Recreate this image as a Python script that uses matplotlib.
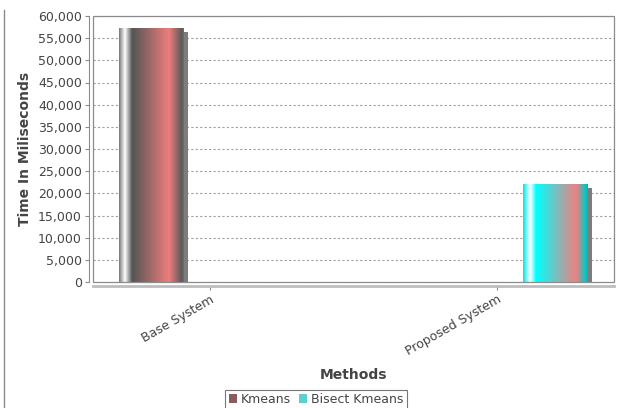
import numpy as np
import matplotlib
matplotlib.use('Agg')
import matplotlib.pyplot as plt
import matplotlib.transforms as mtransforms
from matplotlib.patches import Rectangle
from matplotlib.lines import Line2D
from matplotlib.ticker import FuncFormatter, MultipleLocator

# data
categories = ['Base System', 'Proposed System']
series_names = ['Kmeans', 'Bisect Kmeans']
kmeans = [57400, 0]
bisect_kmeans = [0, 22000]
y_max = 60000
y_step = 5000

TEXT = '#444444'
GRID = '#a0a0a0'

# JFreeChart-like gradient stops across each bar (fraction, rgb)
kmeans_stops = [(0.0, (120, 120, 120)), (0.09, (255, 255, 255)), (0.2, (85, 85, 85)),
                (0.77, (238, 125, 125)), (0.97, (90, 90, 90)), (1.0, (110, 110, 110))]
bisect_stops = [(0.0, (0, 230, 230)), (0.11, (255, 255, 255)), (0.2, (0, 255, 255)),
                (0.82, (240, 128, 128)), (0.97, (0, 200, 200)), (1.0, (0, 180, 180))]


def gradient(stops, n=200):
    t = np.linspace(0, 1, n)
    pos = [s[0] for s in stops]
    rgb = np.array([s[1] for s in stops]) / 255.0
    cols = np.stack([np.interp(t, pos, rgb[:, i]) for i in range(3)], axis=-1)
    return cols[np.newaxis, :, :]


fig = plt.figure(figsize=(6.17, 4.08), dpi=100)
ax = fig.add_axes([93 / 617, 1 - 282 / 408, (614 - 93) / 617, (282 - 16) / 408])

x = np.arange(len(categories))
width = 0.226
offset = 0.204
shadow = ax.transData + mtransforms.ScaledTranslation(4 / 100, -4 / 100, fig.dpi_scale_trans)

for vals, shift, stops in [(kmeans, -offset, kmeans_stops), (bisect_kmeans, offset, bisect_stops)]:
    bars = ax.bar(x + shift, vals, width, color='none', edgecolor='none', zorder=3)
    img = gradient(stops)
    for rect in bars:
        h = rect.get_height()
        if h <= 0:
            continue
        x0, w = rect.get_x(), rect.get_width()
        ax.add_patch(Rectangle((x0, 0), w, h, transform=shadow, fc='#7d7d7d', ec='none', zorder=2))
        im = ax.imshow(img, extent=(x0, x0 + w, 0, h), aspect='auto', zorder=3, interpolation='bilinear')
        im.set_clip_path(rect)

ax.set_xlim(-0.408, 1.408)
ax.set_ylim(0, y_max)

# gridlines and border
ax.yaxis.grid(True, linestyle=(0, (2, 2)), color=GRID, linewidth=0.8)
ax.set_axisbelow(True)
for s in ['top', 'right']:
    ax.spines[s].set_visible(False)
ax.add_patch(Rectangle((0, 0), 1, 1, transform=ax.transAxes, fill=False,
                       ec='#8c8c8c', lw=0.9, clip_on=False, zorder=4))
ax.spines['left'].set_position(('outward', 3))
ax.spines['left'].set_color('#8c8c8c')
ax.spines['bottom'].set_position(('outward', 3))
ax.spines['bottom'].set_color('#bdbdbd')
ax.spines['bottom'].set_linewidth(2)

ax.yaxis.set_major_locator(MultipleLocator(y_step))
ax.yaxis.set_major_formatter(FuncFormatter(lambda v, p: f'{int(v):,}'))
ax.tick_params(axis='y', direction='out', length=3, width=0.8, color='#8c8c8c',
               labelcolor=TEXT, labelsize=9, pad=2)
ax.set_xticks(x)
ax.set_xticklabels(categories, rotation=30, ha='right', va='top', rotation_mode='anchor')
ax.tick_params(axis='x', direction='out', length=3, width=0.8, color='#8c8c8c',
               labelcolor=TEXT, labelsize=9, pad=2)

ax.set_ylabel('Time In Miliseconds', fontsize=10, fontweight='bold', color=TEXT, va='center')
ax.yaxis.set_label_coords((25 - 93) / 521, 0.5)
ax.set_xlabel('Methods', fontsize=10, fontweight='bold', color=TEXT, va='center')
ax.xaxis.set_label_coords(0.5, -(375 - 282) / 266)

# left border line of the screenshot
fig.add_artist(Line2D([4 / 617, 4 / 617], [0, 1 - 10 / 408], transform=fig.transFigure,
                      color='#8a8a8a', lw=1))

handles = [Rectangle((0, 0), 1, 1, fc='#8c5c5c', ec='none'),
           Rectangle((0, 0), 1, 1, fc='#5ecfcf', ec='none')]
leg = fig.legend(handles, series_names, loc='upper center', bbox_to_anchor=(316 / 617, 1 - 390 / 408),
                 ncol=2, frameon=True, fancybox=False, edgecolor='#555555', fontsize=9,
                 handlelength=0.7, handleheight=0.7, handletextpad=0.3, columnspacing=0.6,
                 borderpad=0.25, borderaxespad=0)
leg.get_frame().set_linewidth(0.8)
for t in leg.get_texts():
    t.set_color(TEXT)

fig.savefig('out.png', dpi=100)
